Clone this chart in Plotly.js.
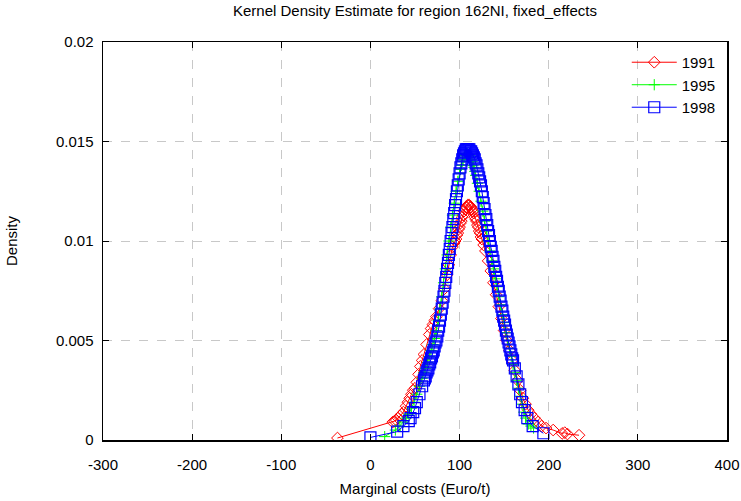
<!DOCTYPE html>
<html>
<head>
<meta charset="utf-8">
<script src="https://cdn.plot.ly/plotly-3.0.1.min.js"></script>
<style>html,body{margin:0;padding:0;background:#fff;}#chart{width:741px;height:501px;}</style>
</head>
<body>
<div id="chart"></div>
<script>
// 1991 series
var x1991 = [-37, 25, 27, 29, 31, 33, 35, 37, 40, 42, 44, 46, 48, 50, 52, 54, 56, 58, 60, 63, 66, 68, 70, 72, 74, 77, 80, 83, 86, 88, 90, 92, 94, 95, 96, 97, 98, 99, 100, 101, 102, 103, 104, 105, 106, 107, 108, 109, 110, 111, 112, 113, 114, 115, 116, 117, 118, 119, 120, 121, 122, 123, 124, 125, 127, 129, 132, 135, 138, 141, 144, 147, 150, 153, 156, 159, 162, 165, 168, 171, 174, 177, 180, 184, 188, 192, 197, 205, 215, 218, 221, 234];
var y1991 = [0.0001, 0.0009, 0.00095, 0.001, 0.0011, 0.0012, 0.0013, 0.0014, 0.0017, 0.0019, 0.0021, 0.0023, 0.0025, 0.0026, 0.0029, 0.0033, 0.0037, 0.0040, 0.0043, 0.0048, 0.0053, 0.0056, 0.0058, 0.0060, 0.0062, 0.0066, 0.0070, 0.0076, 0.0083, 0.0088, 0.0093, 0.0097, 0.0099, 0.0100, 0.0101, 0.0103, 0.0104, 0.0106, 0.0107, 0.0109, 0.0110, 0.0112, 0.0113, 0.0115, 0.0116, 0.0117, 0.0117, 0.0118, 0.0118, 0.0118, 0.0117, 0.0117, 0.0116, 0.0115, 0.0114, 0.0112, 0.0111, 0.0110, 0.0108, 0.0107, 0.0105, 0.0104, 0.0102, 0.0101, 0.0098, 0.0095, 0.0090, 0.0085, 0.0079, 0.0073, 0.0067, 0.0061, 0.0055, 0.0050, 0.0045, 0.0040, 0.0035, 0.0030, 0.0025, 0.0021, 0.0018, 0.0015, 0.0013, 0.0011, 0.0009, 0.0007, 0.0006, 0.0005, 0.00033, 0.00037, 0.0003, 0.00024];

// 1995 series
var x1995 = [16, 28, 33, 37, 40, 43, 46, 49, 52, 55, 58, 60, 62, 64, 66, 68, 70, 72, 74, 76, 78, 80, 82, 84, 86, 88, 90, 92, 94, 96, 98, 100, 101, 102, 103, 104, 105, 106, 107, 108, 109, 110, 111, 112, 113, 114, 115, 116, 117, 118, 120, 122, 124, 126, 128, 130, 132, 134, 136, 138, 140, 142, 144, 146, 148, 150, 152, 154, 156, 158, 160, 162, 164, 166, 168, 170, 172, 174, 177, 180, 183];
var y1995 = [0.00017, 0.0005, 0.0007, 0.0009, 0.0011, 0.0013, 0.0016, 0.0019, 0.0023, 0.0027, 0.0031, 0.0034, 0.0036, 0.0039, 0.0042, 0.0045, 0.0048, 0.0051, 0.0055, 0.0060, 0.0066, 0.0072, 0.0079, 0.0086, 0.0093, 0.0100, 0.0107, 0.0113, 0.0119, 0.0125, 0.0130, 0.0134, 0.0136, 0.0138, 0.0140, 0.0141, 0.0142, 0.0143, 0.0144, 0.0144, 0.0144, 0.0143, 0.0143, 0.0142, 0.0141, 0.0140, 0.0138, 0.0137, 0.0135, 0.0133, 0.0129, 0.0125, 0.0120, 0.0115, 0.0110, 0.0105, 0.0100, 0.0095, 0.0090, 0.0086, 0.0081, 0.0077, 0.0072, 0.0068, 0.0063, 0.0059, 0.0054, 0.0050, 0.0046, 0.0042, 0.0038, 0.0034, 0.0030, 0.0026, 0.0022, 0.0018, 0.0014, 0.0011, 0.0008, 0.0007, 0.0006];

// 1998 series
var x1998 = [0, 30, 37, 43, 45, 48, 50, 52, 55, 58, 60, 61, 62, 63, 64, 65, 66, 67, 68, 69, 70, 71, 72, 73, 74, 75, 76, 77, 78, 79, 80, 81, 82, 83, 84, 85, 86, 87, 88, 89, 90, 91, 92, 93, 94, 95, 96, 97, 98, 99, 100, 101, 102, 103, 104, 105, 106, 107, 108, 109, 110, 111, 112, 113, 114, 115, 116, 117, 118, 119, 120, 121, 122, 123, 124, 125, 126, 127, 128, 129, 130, 131, 132, 133, 134, 135, 136, 137, 138, 139, 140, 141, 142, 143, 144, 145, 146, 147, 148, 149, 150, 151, 152, 153, 154, 155, 156, 157, 158, 159, 160, 162, 164, 166, 168, 170, 173, 176, 182, 194];
var y1998 = [0.00013, 0.00042, 0.0007, 0.00095, 0.0011, 0.0014, 0.0016, 0.0019, 0.0023, 0.0027, 0.0030, 0.0031, 0.0032, 0.0034, 0.0035, 0.0036, 0.0038, 0.0039, 0.0041, 0.0042, 0.0044, 0.0045, 0.0047, 0.0049, 0.0050, 0.0052, 0.0055, 0.0057, 0.0060, 0.0063, 0.0066, 0.0069, 0.0072, 0.0075, 0.0079, 0.0082, 0.0086, 0.0089, 0.0093, 0.0096, 0.0100, 0.0104, 0.0107, 0.0111, 0.0114, 0.0118, 0.0121, 0.0125, 0.0128, 0.0131, 0.0134, 0.0137, 0.0139, 0.0141, 0.0143, 0.0144, 0.0145, 0.0146, 0.0146, 0.0146, 0.0146, 0.0146, 0.0145, 0.0145, 0.0144, 0.0143, 0.0142, 0.0141, 0.0139, 0.0138, 0.0136, 0.0134, 0.0132, 0.0130, 0.0128, 0.0125, 0.0122, 0.0119, 0.0116, 0.0113, 0.0111, 0.0108, 0.0105, 0.0103, 0.0100, 0.0097, 0.0095, 0.0092, 0.0090, 0.0087, 0.0085, 0.0082, 0.0080, 0.0077, 0.0075, 0.0072, 0.0070, 0.0067, 0.0065, 0.0062, 0.0060, 0.0058, 0.0055, 0.0053, 0.0051, 0.0049, 0.0047, 0.0045, 0.0043, 0.0041, 0.0040, 0.0036, 0.0032, 0.0028, 0.0023, 0.0019, 0.0015, 0.0011, 0.0007, 0.00034];

var xTickVals = [-300, -200, -100, 0, 100, 200, 300, 400];
var xTickText = ["-300", "-200", "-100", "0", "100", "200", "300", "400"];
var yTickVals = [0, 0.005, 0.01, 0.015, 0.02];
var yTickText = ["0", "0.005", "0.01", "0.015", "0.02"];

var font = "Liberation Sans, Arial, sans-serif";
var fs = 15;

var traces = [
  {x: x1991, y: y1991, name: "1991", type: "scatter", mode: "lines+markers",
   line: {color: "#ff0000", width: 1},
   marker: {symbol: "diamond-open", size: 9, color: "#ff0000", line: {width: 1, color: "#ff0000"}}},
  {x: x1995, y: y1995, name: "1995", type: "scatter", mode: "lines+markers",
   line: {color: "#00ff00", width: 1},
   marker: {symbol: "cross-thin-open", size: 8, color: "#00ff00", line: {width: 1, color: "#00ff00"}}},
  {x: x1998, y: y1998, name: "1998", type: "scatter", mode: "lines+markers",
   line: {color: "#0000ff", width: 1},
   marker: {symbol: "square-open", size: 11, color: "#0000ff", line: {width: 1.2, color: "#0000ff"}}}
];

var axisCommon = {
  showline: true, linecolor: "#000", linewidth: 1.5, mirror: "ticks",
  ticks: "inside", ticklen: 6, tickcolor: "#000",
  showgrid: true, gridcolor: "#c8c8c8", griddash: "dash", gridwidth: 1,
  zeroline: false, tickfont: {family: font, size: fs, color: "#000"}
};

var layout = {
  width: 741, height: 501,
  margin: {l: 103, r: 14, t: 42, b: 61},
  paper_bgcolor: "#fff", plot_bgcolor: "#fff",
  font: {family: font, size: fs, color: "#000"},
  title: {text: "Kernel Density Estimate for region 162NI, fixed_effects", xref: "paper", x: 0.5, xanchor: "center", yref: "container", y: 0.99, yanchor: "top", font: {family: font, size: fs, color: "#000"}},
  xaxis: Object.assign({}, axisCommon, {range: [-300, 400], tickvals: xTickVals, ticktext: xTickText, ticklabelstandoff: 10,
    title: {text: "Marginal costs (Euro/t)", standoff: 12, font: {family: font, size: fs}}}),
  yaxis: Object.assign({}, axisCommon, {range: [0, 0.02], tickvals: yTickVals, ticktext: yTickText, ticklabelstandoff: 5,
    title: {text: "Density", standoff: 34, font: {family: font, size: fs}}}),
  showlegend: true,
  legend: {x: 0.99, xanchor: "right", y: 0.99, yanchor: "top", bgcolor: "rgba(255,255,255,0)",
    font: {family: font, size: fs}, itemwidth: 45, tracegroupgap: 0}
};

Plotly.newPlot("chart", traces, layout, {displayModeBar: false, staticPlot: true});
</script>
</body>
</html>
